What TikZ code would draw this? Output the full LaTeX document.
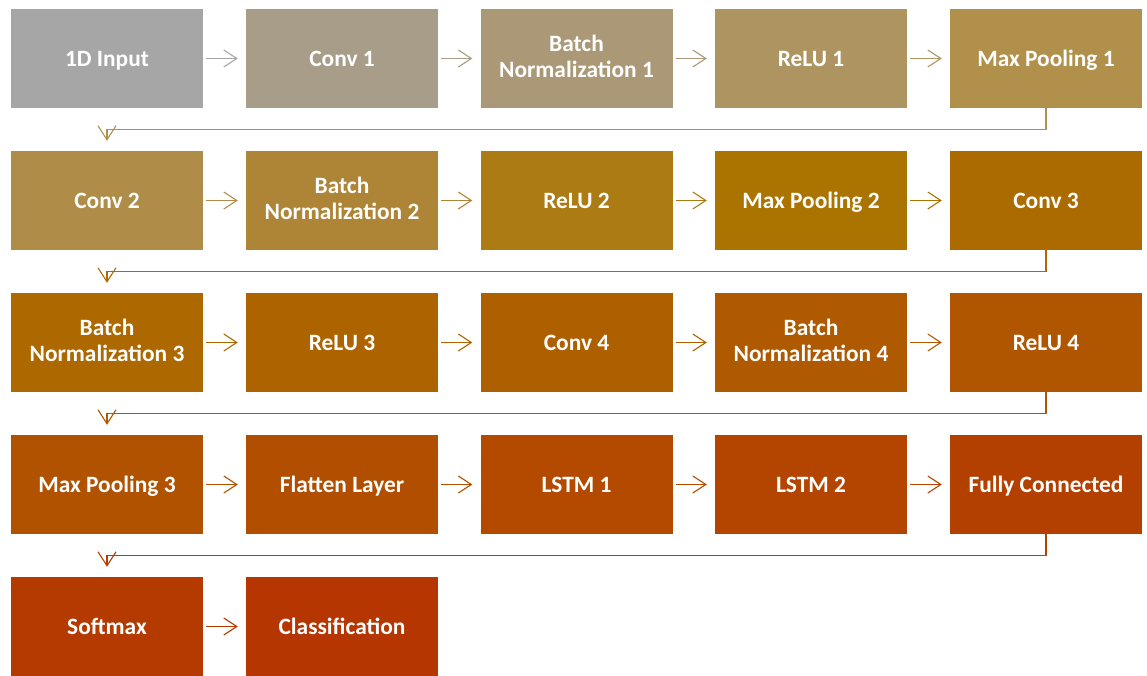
\documentclass[tikz,border=0pt]{standalone}
\usepackage{fontspec}
\setmainfont{Carlito}
\usetikzlibrary{arrows.meta}
\newcommand\boxstrut{\rule[-4.5pt]{0pt}{25pt}}
\newcommand\tallstrut{\rule[-4.5pt]{0pt}{33pt}}
\definecolor{c1}{HTML}{A6A6A6}
\definecolor{c2}{HTML}{A79D89}
\definecolor{c3}{HTML}{AA9876}
\definecolor{c4}{HTML}{AD9460}
\definecolor{c5}{HTML}{B0904B}
\definecolor{c6}{HTML}{AF8C47}
\definecolor{c7}{HTML}{AE8536}
\definecolor{c8}{HTML}{AC7B14}
\definecolor{c9}{HTML}{AB7300}
\definecolor{c10}{HTML}{AC6B00}
\definecolor{c11}{HTML}{AD6800}
\definecolor{c12}{HTML}{AD6400}
\definecolor{c13}{HTML}{AE5F00}
\definecolor{c14}{HTML}{AF5A00}
\definecolor{c15}{HTML}{B05500}
\definecolor{c16}{HTML}{B05200}
\definecolor{c17}{HTML}{B14E00}
\definecolor{c18}{HTML}{B34A00}
\definecolor{c19}{HTML}{B34500}
\definecolor{c20}{HTML}{B44000}
\definecolor{c21}{HTML}{B53A00}
\definecolor{c22}{HTML}{B53600}
\begin{document}
\begin{tikzpicture}[x=1pt,y=-1pt,
  box/.style={fill=#1, minimum width=192pt, minimum height=99pt, inner sep=0pt,
    text=white, align=center, font=\fontsize{23.4}{26}\selectfont\bfseries,
    execute at begin node=\boxstrut, execute at end node=\boxstrut},
  twoline/.style={execute at begin node=\tallstrut},
  conn/.style={draw=#1, line width=1.1pt, -{Straight Barb[length=13pt,width=17pt,line width=1.1pt]},
    shorten <=3pt, shorten >=8pt},
  wrap/.style={draw=#1, line width=1.1pt, -{Straight Barb[length=14pt,width=18pt,line width=1.1pt]},
    shorten >=10pt}]
\useasboundingbox (0,0) rectangle (1147,676);
% row 1
\node[box=c1] (n1) at (107,58.5) {1D Input};
\node[box=c2] (n2) at (342,58.5) {Conv 1};
\node[box=c3,twoline] (n3) at (576.5,58.5) {Batch\\Normalization 1};
\node[box=c4] (n4) at (811,58.5) {ReLU 1};
\node[box=c5] (n5) at (1046,58.5) {Max Pooling 1};
% row 2
\node[box=c6] (n6) at (107,200.5) {Conv 2};
\node[box=c7,twoline] (n7) at (342,200.5) {Batch\\Normalization 2};
\node[box=c8] (n8) at (576.5,200.5) {ReLU 2};
\node[box=c9] (n9) at (811,200.5) {Max Pooling 2};
\node[box=c10] (n10) at (1046,200.5) {Conv 3};
% row 3
\node[box=c11,twoline] (n11) at (107,342.5) {Batch\\Normalization 3};
\node[box=c12] (n12) at (342,342.5) {ReLU 3};
\node[box=c13] (n13) at (576.5,342.5) {Conv 4};
\node[box=c14,twoline] (n14) at (811,342.5) {Batch\\Normalization 4};
\node[box=c15] (n15) at (1046,342.5) {ReLU 4};
% row 4
\node[box=c16] (n16) at (107,484.5) {Max Pooling 3};
\node[box=c17] (n17) at (342,484.5) {Flatten Layer};
\node[box=c18] (n18) at (576.5,484.5) {LSTM 1};
\node[box=c19] (n19) at (811,484.5) {LSTM 2};
\node[box=c20] (n20) at (1046,484.5) {Fully Connected};
% row 5
\node[box=c21] (n21) at (107,626.5) {Softmax};
\node[box=c22] (n22) at (342,626.5) {Classification};
% horizontal connectors
\foreach \a/\b in {1/2,2/3,3/4,4/5,6/7,7/8,8/9,9/10,11/12,12/13,13/14,14/15,16/17,17/18,18/19,19/20,21/22}
  \draw[conn=c\a] (n\a.east) -- (n\b.west);
% wrap connectors
\draw[wrap=c5] (n5.south) -- ++(0,21) -| (n6.north);
\draw[wrap=c10] (n10.south) -- ++(0,21) -| (n11.north);
\draw[wrap=c15] (n15.south) -- ++(0,21) -| (n16.north);
\draw[wrap=c20] (n20.south) -- ++(0,21) -| (n21.north);
\end{tikzpicture}
\end{document}
